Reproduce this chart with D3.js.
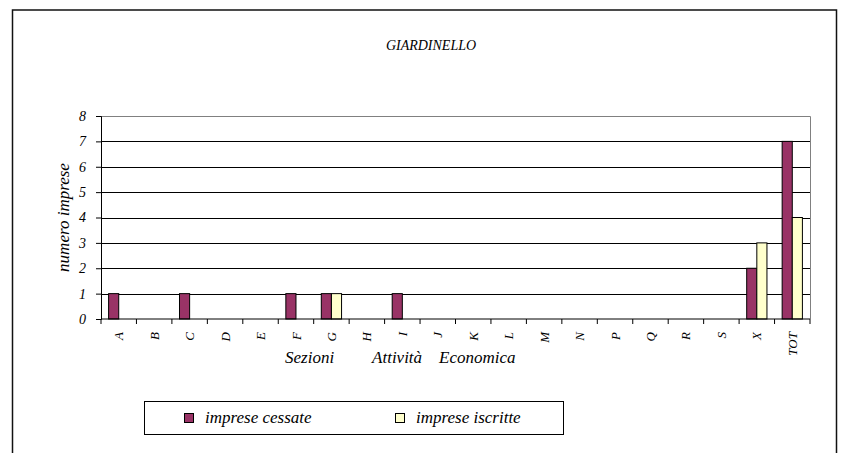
<!DOCTYPE html>
<html>
<head>
<meta charset="utf-8">
<script src="https://cdn.jsdelivr.net/npm/d3@7"></script>
<style>
  body { margin: 0; background: #fff; }
</style>
</head>
<body>
<svg id="chart" width="841" height="453"></svg>
<script>
// Chart data
const categories = ['A', 'B', 'C', 'D', 'E', 'F', 'G', 'H', 'I', 'J', 'K', 'L', 'M', 'N', 'P', 'Q', 'R', 'S', 'X', 'TOT'];
const cessate = [1, 0, 1, 0, 0, 1, 1, 0, 1, 0, 0, 0, 0, 0, 0, 0, 0, 0, 2, 7];
const iscritte = [0, 0, 0, 0, 0, 0, 1, 0, 0, 0, 0, 0, 0, 0, 0, 0, 0, 0, 3, 4];
const series_names = ['imprese cessate', 'imprese iscritte'];
const series_colors = ['#993366', '#FFFFCC'];
const y_ticks = [0, 1, 2, 3, 4, 5, 6, 7, 8];

const svg = d3.select('#chart');

// helper: italic serif text like the Excel export
const styleText = (sel, size) => sel
    .style('font-family', 'Liberation Serif')
    .style('font-style', 'italic')
    .style('font-size', size + 'px')
    .style('fill', '#000');

// Outer frame (no bottom edge, as in the picture)
svg.append('path')
    .attr('d', 'M12.5,453 L12.5,10 L836.5,10 L836.5,453')
    .attr('fill', 'none')
    .attr('stroke', '#111')
    .attr('stroke-width', 1.5);

// Plot area
const plot = { left: 101, right: 810, top: 116, bottom: 319 };

// Excel style gap width of 150%
const xscale = d3.scaleBand()
    .domain(categories)
    .range([plot.left, plot.right])
    .paddingInner(0.4286)
    .paddingOuter(0.2143);

const xband = d3.scaleBand()
    .domain(categories)
    .range([plot.left, plot.right]);

const yScale = d3.scaleLinear()
    .domain([0, 8])
    .range([plot.bottom, plot.top]);

// Bars split into two series
const xSub = d3.scaleBand()
    .domain(series_names)
    .range([0, xscale.bandwidth()]);

// Gridlines
svg.append('g')
    .selectAll('line')
    .data(y_ticks.filter(d => d > 0 && d < 8))
    .join('line')
    .attr('x1', plot.left).attr('x2', plot.right)
    .attr('y1', d => Math.round(yScale(d)) + 0.5).attr('y2', d => Math.round(yScale(d)) + 0.5)
    .attr('stroke', '#000')
    .attr('stroke-width', 1);

// Plot border (top and right in grey)
svg.append('path')
    .attr('d', `M${plot.left},${yScale(8) + 0.5} L${plot.right + 0.5},${yScale(8) + 0.5} L${plot.right + 0.5},${plot.bottom}`)
    .attr('fill', 'none')
    .attr('stroke', '#808080')
    .attr('stroke-width', 1);

const rows = categories.map((c, i) => ({ cat: c, values: [cessate[i], iscritte[i]] }));

const groups = svg.append('g')
    .selectAll('g')
    .data(rows)
    .join('g')
    .attr('transform', d => `translate(${xscale(d.cat)},0)`);

groups.selectAll('rect')
    .data(d => d.values.map((v, j) => ({ name: series_names[j], value: v, color: series_colors[j] })))
    .join('rect')
    .filter(d => d.value > 0)
    .attr('x', d => xSub(d.name))
    .attr('y', d => yScale(d.value))
    .attr('width', xSub.bandwidth())
    .attr('height', d => plot.bottom - yScale(d.value))
    .attr('fill', d => d.color)
    .attr('stroke', '#000')
    .attr('stroke-width', 1);

// Y axis
const yAxis = svg.append('g')
    .attr('transform', `translate(${plot.left},0)`)
    .call(d3.axisLeft(yScale).tickValues(y_ticks).tickSize(5).tickPadding(10));
yAxis.select('.domain').attr('stroke', '#000');
yAxis.selectAll('.tick line').attr('stroke', '#000');
styleText(yAxis.selectAll('text'), 14);

// X axis: ticks at category boundaries
const xAxis = svg.append('g')
    .attr('transform', `translate(0,${plot.bottom})`);
xAxis.append('line')
    .attr('x1', plot.left).attr('x2', plot.right)
    .attr('stroke', '#000');
xAxis.selectAll('.bt')
    .data(categories)
    .join('line')
    .attr('class', 'bt')
    .attr('x1', d => xband(d) + xband.bandwidth())
    .attr('x2', d => xband(d) + xband.bandwidth())
    .attr('y1', 0).attr('y2', 5)
    .attr('stroke', '#000');
xAxis.append('line')
    .attr('x1', plot.left).attr('x2', plot.left)
    .attr('y1', 0).attr('y2', 5)
    .attr('stroke', '#000');
styleText(xAxis.selectAll('text')
    .data(categories)
    .join('text')
    .attr('transform', d => `translate(${xband(d) + xband.bandwidth() / 2},13) rotate(-90)`)
    .attr('text-anchor', 'end')
    .attr('dy', '0.35em')
    .text(d => d), 13);

// Titles
styleText(svg.append('text')
    .attr('x', 431).attr('y', 50)
    .attr('text-anchor', 'middle')
    .text('GIARDINELLO'), 14);

styleText(svg.append('text')
    .attr('transform', `translate(69,${(plot.top + plot.bottom) / 2}) rotate(-90)`)
    .attr('text-anchor', 'middle')
    .text('numero imprese'), 17);

styleText(svg.append('text')
    .attr('x', 285).attr('y', 363)
    .style('white-space', 'pre')
    .text('Sezioni         Attività    Economica'), 17);

// Legend
const legend = svg.append('g');
legend.append('rect')
    .attr('x', 144.5).attr('y', 401.5)
    .attr('width', 419).attr('height', 33)
    .attr('fill', '#fff')
    .attr('stroke', '#000')
    .attr('stroke-width', 1);

const legend_x = [184, 395];
series_names.forEach((name, i) => {
    legend.append('rect')
        .attr('x', legend_x[i] + 0.5).attr('y', 413.5)
        .attr('width', 9).attr('height', 9)
        .attr('fill', series_colors[i])
        .attr('stroke', '#000')
        .attr('stroke-width', 1);
    styleText(legend.append('text')
        .attr('x', legend_x[i] + 21).attr('y', 423)
        .text(name), 17);
});
</script>
</body>
</html>
